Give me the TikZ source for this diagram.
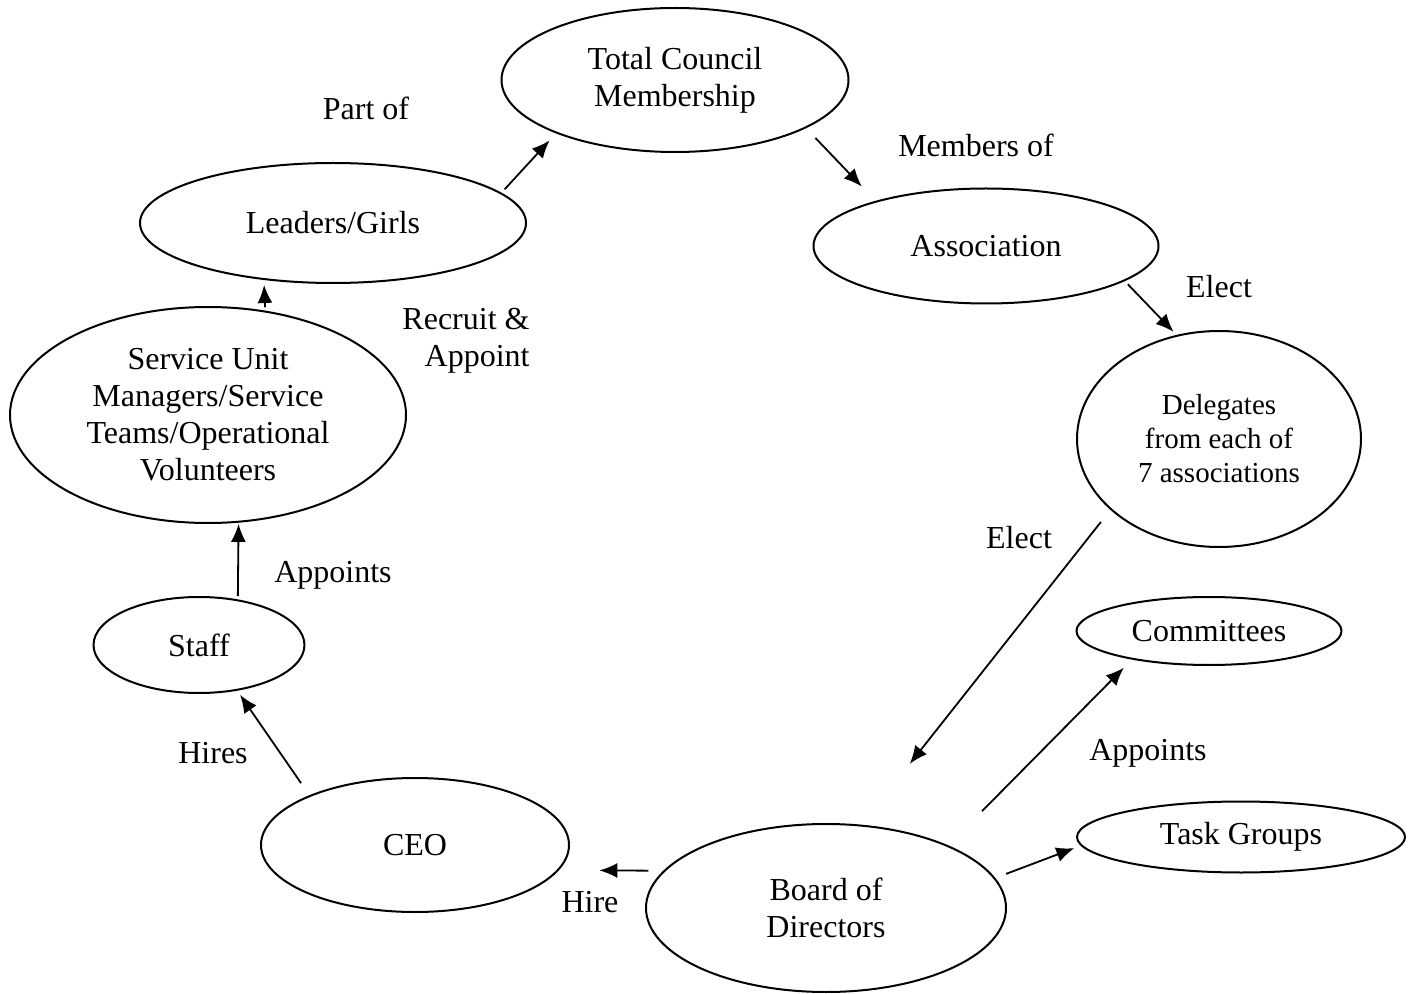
\documentclass[tikz,border=0pt]{standalone}
\usepackage{fontspec}
\setmainfont{Liberation Serif}
\usetikzlibrary{shapes.geometric,arrows.meta}

\begin{document}
\begin{tikzpicture}[x=0.5pt,y=-0.5pt,>={Latex[length=9pt,width=7.5pt]},
  font=\fontsize{16}{18.5}\selectfont,
  every node/.style={align=center},
  oval/.style={draw,ellipse,line width=1pt,inner sep=0pt,outer sep=0pt},
  link/.style={->,line width=0.9pt}]
\useasboundingbox (0,0) rectangle (1414,994);

% Ellipses
\node[oval,minimum width=173.5pt,minimum height=72pt]  (total) at (675,80)  {Total Council\\Membership};
\node[oval,minimum width=193pt,minimum height=60pt]    (lead)  at (333,223) {Leaders/Girls};
\node[oval,minimum width=172.5pt,minimum height=57.5pt](assoc) at (986,246) {Association};
\node[oval,minimum width=142pt,minimum height=108pt,font=\fontsize{14.5}{17}\selectfont]
                                                       (deleg) at (1219,439) {Delegates\\from each of\\7 associations};
\node[oval,minimum width=198pt,minimum height=108pt]   (serv)  at (208,415) {Service Unit\\Managers/Service\\Teams/Operational\\Volunteers};
\node[oval,minimum width=105.5pt,minimum height=48pt]  (staff) at (199,645) {Staff};
\node[oval,minimum width=132.5pt,minimum height=34pt]  (comm)  at (1209,631) {Committees};
\node[oval,minimum width=164pt,minimum height=35.5pt]  (task)  at (1241,837) {Task Groups};
\node[oval,minimum width=154pt,minimum height=67pt]    (ceo)   at (415,845) {CEO};
\node[oval,minimum width=180pt,minimum height=84pt]    (board) at (826,908) {Board of\\Directors};

% Arrows (from/angle/to/angle/gap at start/gap at tip)
\foreach \a/\sa/\b/\sb/\gs/\ge in {
  lead/10.7/total/-156.1/2.75/5.2,
  total/-20.9/assoc/158.1/7.25/10.45,
  assoc/-14.5/deleg/112.2/2.65/2.7,
  deleg/213.7/board/67.0/8.2/39.35,
  board/27.5/comm/200.8/24.5/6.3,
  board/10.1/task/183.8/6.25/3.9,
  board/167.5/ceo/-10.85/8.2/20.8,
  ceo/155.85/staff/-50.9/7.8/3,
  staff/49.3/serv/-74.56/2.15/1.1,
  serv/61.6/lead/219.1/2.2/3} {
  \draw[link,shorten <=\gs pt,shorten >=\ge pt] (\a.\sa) -- (\b.\sb);
}

% Labels
\node (partof)   at (366,108)  {Part of};
\node (membof)   at (976,145)  {Members of};
\node (elect)    at (1219,287) {Elect};
\node[align=right] (recruit) at (466,341) {Recruit \&\\Appoint};
\node (electb)   at (1019,538) {Elect};
\node (appoints) at (333,575)  {Appoints};
\node (appointb) at (1148,753) {Appoints};
\node (hires)    at (213,753)  {Hires};
\node (hire)     at (590,902)  {Hire};

\end{tikzpicture}
\end{document}
